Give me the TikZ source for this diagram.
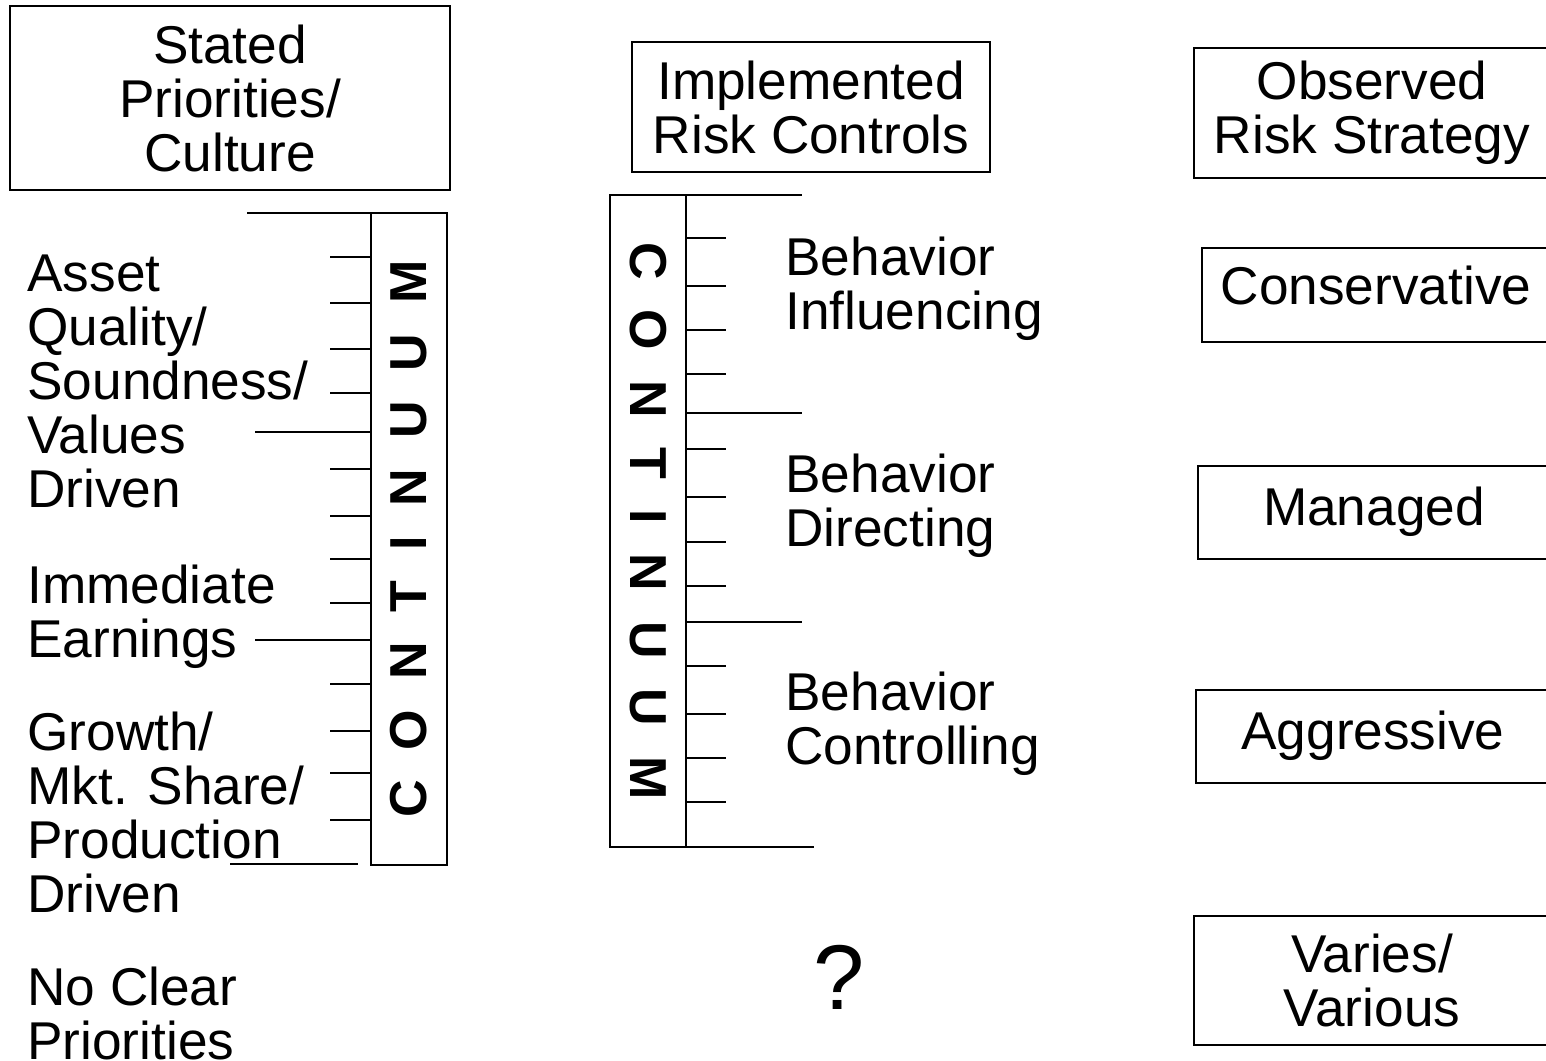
\documentclass[tikz,border=0pt]{standalone}
\usepackage{fontspec}
\setmainfont{Liberation Sans}
\usetikzlibrary{positioning}

\newcommand{\contword}{C\hskip15pt O\hskip15pt N\hskip15pt T\hskip15pt I\hskip15pt N\hskip15pt U\hskip15pt U\hskip15pt M}

\begin{document}
\begin{tikzpicture}[
    x=0.5pt, y=-0.5pt,
    every node/.style={font=\fontsize{26.6}{27}\selectfont},
    box/.style={rectangle, draw, line width=1pt, align=center, inner sep=0pt},
    lbl/.style={anchor=north west, align=left, inner sep=0pt},
    contbox/.style={rectangle, draw, line width=1pt, minimum width=326pt, minimum height=38pt, inner sep=0pt, font=\fontsize{26}{27}\selectfont\bfseries},
    tick/.style={line width=1pt}
]
\useasboundingbox (0,0) rectangle (1546,1060);

% column headings
\node[box, minimum width=220pt, minimum height=92pt] (stated) at (230,98) {Stated\\Priorities/\\Culture};
\node[box, minimum width=179pt, minimum height=65pt] (implemented) at (811,107) {Implemented\\Risk Controls};
\node[box, minimum width=178pt, minimum height=65pt] (observed) at (1372,113) {Observed\\Risk Strategy};

% risk strategies
\node[box, minimum width=174pt, minimum height=47pt, text depth=10pt] (conservative) at (1376,295) {Conservative};
\node[box, minimum width=176pt, minimum height=46.5pt] (managed) at (1374,512) {Managed};
\node[box, minimum width=177pt, minimum height=46.5pt] (aggressive) at (1373,736) {Aggressive};
\node[box, minimum width=178pt, minimum height=64.5pt] (varies) at (1372,980) {Varies/\\Various};

% continuum scales
\node[contbox, rotate=90] (lcont) at (409,539) {\contword};
\node[contbox, rotate=-90] (mcont) at (648,521) {\contword};

\foreach \y in {257,303,349,393,469,516,559,603,684,731,773,820}
    \draw[tick] (330,\y) -- (lcont.north |- 0,\y);
\draw[tick] (247,213) -- (lcont.north |- 0,213);
\draw[tick] (255,432) -- (lcont.north |- 0,432);
\draw[tick] (255,640) -- (lcont.north |- 0,640);
\draw[tick] (230,864) -- (358,864);

\foreach \y in {238,286,330,374,449,497,542,586,666,714,758,802}
    \draw[tick] (mcont.north |- 0,\y) -- (726,\y);
\draw[tick] (mcont.north |- 0,195) -- (802,195);
\draw[tick] (mcont.north |- 0,413) -- (802,413);
\draw[tick] (mcont.north |- 0,622) -- (802,622);
\draw[tick] (mcont.north |- 0,847) -- (814,847);

% priorities
\node[lbl] (asset) at (27,254) {Asset\\Quality/\\Soundness/\\Values\\Driven};
\node[lbl] (immediate) at (27,565) {Immediate\\Earnings};
\node[lbl] (growth) at (27,712) {Growth/\\Mkt. Share/\\Production\\Driven};
\node[lbl] (noclear) at (27,967) {No Clear\\Priorities};

% controls
\node[lbl] (influencing) at (785,237) {Behavior\\Influencing};
\node[lbl] (directing) at (785,454) {Behavior\\Directing};
\node[lbl] (controlling) at (785,672) {Behavior\\Controlling};
\node[font=\fontsize{46}{46}\selectfont] (unknown) at (839,977) {?};
\end{tikzpicture}
\end{document}
